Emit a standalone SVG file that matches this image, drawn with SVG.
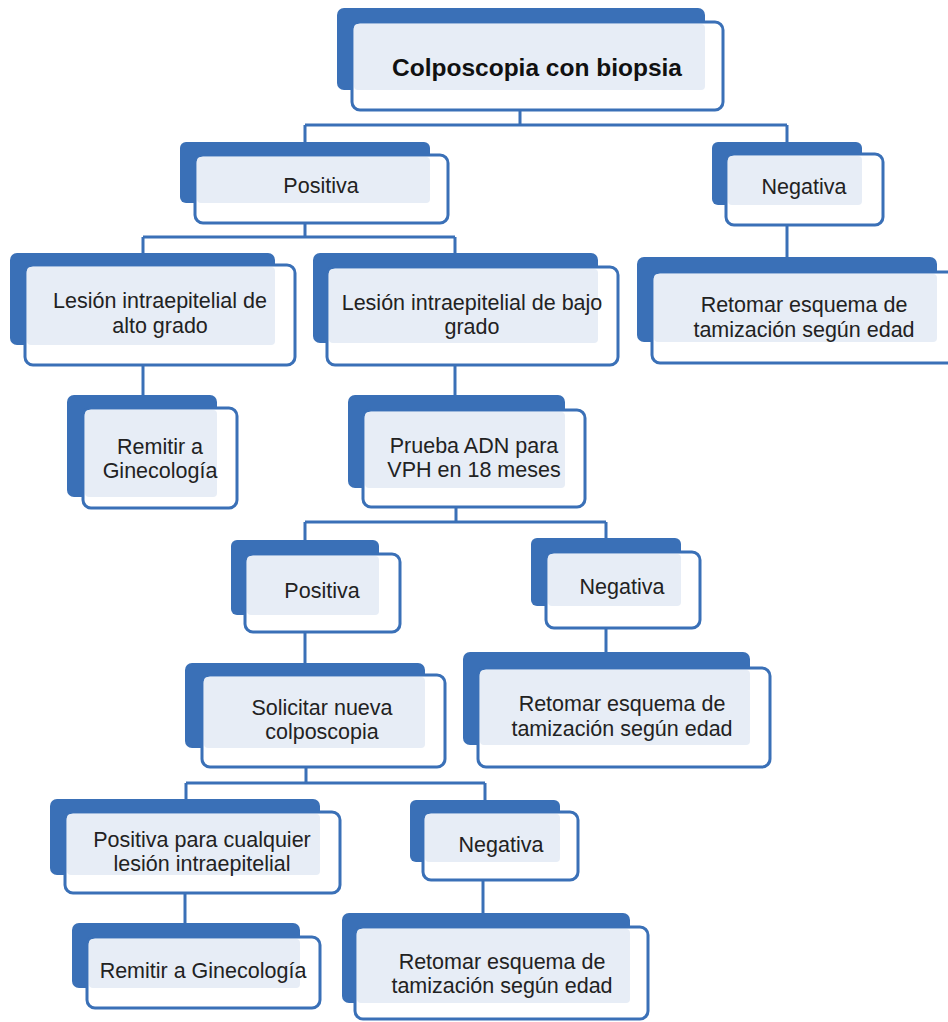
<svg xmlns="http://www.w3.org/2000/svg" width="948" height="1022" viewBox="0 0 948 1022">
<style>
.back{fill:#3a70b7;}
.front{fill:#ffffff;stroke:#3a70b7;stroke-width:3;}
.light{fill:#e7edf6;}
.t{font-family:"Liberation Sans",Arial,sans-serif;font-size:21.5px;fill:#222222;text-anchor:middle;}
.tb{font-family:"Liberation Sans",Arial,sans-serif;font-size:24.5px;font-weight:bold;fill:#111111;text-anchor:middle;}
.con{fill:none;stroke:#3a70b7;stroke-width:3;}
</style>
<rect width="948" height="1022" fill="#ffffff"/>
<g id="connectors">
<path class="con" d="M520,110 V125 M305,125 H787 M305,125 V142 M787,125 V142"/>
<path class="con" d="M305,223 V237 M143,237 H455 M143,237 V253 M455,237 V253"/>
<path class="con" d="M787,225 V257"/>
<path class="con" d="M143,365 V395"/>
<path class="con" d="M455,365 V395"/>
<path class="con" d="M456,507 V522 M305,522 H606 M305,522 V540 M606,522 V538"/>
<path class="con" d="M305,632 V663"/>
<path class="con" d="M606,628 V652"/>
<path class="con" d="M306,767 V783 M186,783 H485 M186,783 V799 M485,783 V800"/>
<path class="con" d="M185,893 V923"/>
<path class="con" d="M483,880 V913"/>
</g>
<g id="n-title">
<rect class="back" x="337" y="8" width="368" height="82" rx="7"/>
<rect class="front" x="352" y="22" width="371" height="88" rx="8"/>
<rect class="light" x="354" y="24" width="351" height="66" rx="4"/>
<text class="tb" x="537" y="76">Colposcopia con biopsia</text>
</g>
<g id="n-positiva1">
<rect class="back" x="180" y="142" width="250" height="61" rx="6"/>
<rect class="front" x="195" y="155" width="253" height="68" rx="8"/>
<rect class="light" x="197" y="157" width="233" height="46" rx="4"/>
<text class="t" x="321" y="193">Positiva</text>
</g>
<g id="n-negativa1">
<rect class="back" x="712" y="142" width="150" height="63" rx="6"/>
<rect class="front" x="726" y="154" width="157" height="71" rx="8"/>
<rect class="light" x="728" y="156" width="134" height="49" rx="4"/>
<text class="t" x="804" y="194">Negativa</text>
</g>
<g id="n-lesion-alto">
<rect class="back" x="10" y="253" width="265" height="92" rx="7"/>
<rect class="front" x="25" y="265" width="270" height="100" rx="8"/>
<rect class="light" x="27" y="267" width="248" height="78" rx="4"/>
<text class="t" x="160" y="308">Lesión intraepitelial de</text>
<text class="t" x="160" y="333">alto grado</text>
</g>
<g id="n-lesion-bajo">
<rect class="back" x="313" y="253" width="285" height="90" rx="7"/>
<rect class="front" x="327" y="267" width="291" height="98" rx="8"/>
<rect class="light" x="329" y="269" width="269" height="74" rx="4"/>
<text class="t" x="472" y="310">Lesión intraepitelial de bajo</text>
<text class="t" x="472" y="334">grado</text>
</g>
<g id="n-retomar1">
<rect class="back" x="637" y="257" width="300" height="85" rx="7"/>
<rect class="front" x="652" y="272" width="305" height="91" rx="8"/>
<rect class="light" x="654" y="274" width="283" height="68" rx="4"/>
<text class="t" x="804" y="312">Retomar esquema de</text>
<text class="t" x="804" y="337">tamización según edad</text>
</g>
<g id="n-remitir1">
<rect class="back" x="67" y="395" width="150" height="102" rx="7"/>
<rect class="front" x="83" y="408" width="154" height="100" rx="8"/>
<rect class="light" x="85" y="410" width="132" height="87" rx="4"/>
<text class="t" x="160" y="454">Remitir a</text>
<text class="t" x="160" y="478">Ginecología</text>
</g>
<g id="n-prueba">
<rect class="back" x="348" y="395" width="217" height="93" rx="7"/>
<rect class="front" x="363" y="410" width="222" height="97" rx="8"/>
<rect class="light" x="365" y="412" width="200" height="76" rx="4"/>
<text class="t" x="474" y="453">Prueba ADN para</text>
<text class="t" x="474" y="477">VPH en 18 meses</text>
</g>
<g id="n-positiva2">
<rect class="back" x="231" y="540" width="148" height="75" rx="6"/>
<rect class="front" x="245" y="554" width="155" height="78" rx="8"/>
<rect class="light" x="247" y="556" width="132" height="59" rx="4"/>
<text class="t" x="322" y="598">Positiva</text>
</g>
<g id="n-negativa2">
<rect class="back" x="531" y="538" width="150" height="68" rx="6"/>
<rect class="front" x="546" y="552" width="154" height="76" rx="8"/>
<rect class="light" x="548" y="554" width="133" height="52" rx="4"/>
<text class="t" x="622" y="594">Negativa</text>
</g>
<g id="n-retomar2">
<rect class="back" x="463" y="652" width="287" height="93" rx="7"/>
<rect class="front" x="478" y="668" width="292" height="99" rx="8"/>
<rect class="light" x="480" y="670" width="270" height="75" rx="4"/>
<text class="t" x="622" y="711">Retomar esquema de</text>
<text class="t" x="622" y="736">tamización según edad</text>
</g>
<g id="n-solicitar">
<rect class="back" x="185" y="663" width="240" height="85" rx="7"/>
<rect class="front" x="202" y="675" width="243" height="92" rx="8"/>
<rect class="light" x="204" y="677" width="221" height="71" rx="4"/>
<text class="t" x="322" y="715">Solicitar nueva</text>
<text class="t" x="322" y="739">colposcopia</text>
</g>
<g id="n-positiva-cualquier">
<rect class="back" x="50" y="799" width="270" height="76" rx="7"/>
<rect class="front" x="65" y="812" width="275" height="81" rx="8"/>
<rect class="light" x="67" y="814" width="253" height="61" rx="4"/>
<text class="t" x="202" y="847">Positiva para cualquier</text>
<text class="t" x="202" y="871">lesión intraepitelial</text>
</g>
<g id="n-remitir2">
<rect class="back" x="72" y="923" width="228" height="65" rx="7"/>
<rect class="front" x="87" y="937" width="233" height="71" rx="8"/>
<rect class="light" x="89" y="939" width="211" height="49" rx="4"/>
<text class="t" x="203" y="978">Remitir a Ginecología</text>
</g>
<g id="n-negativa3">
<rect class="back" x="410" y="800" width="150" height="62" rx="6"/>
<rect class="front" x="423" y="812" width="155" height="68" rx="8"/>
<rect class="light" x="425" y="814" width="135" height="48" rx="4"/>
<text class="t" x="501" y="852">Negativa</text>
</g>
<g id="n-retomar3">
<rect class="back" x="342" y="913" width="288" height="90" rx="7"/>
<rect class="front" x="355" y="927" width="293" height="92" rx="8"/>
<rect class="light" x="357" y="929" width="273" height="74" rx="4"/>
<text class="t" x="502" y="969">Retomar esquema de</text>
<text class="t" x="502" y="993">tamización según edad</text>
</g>
</svg>
